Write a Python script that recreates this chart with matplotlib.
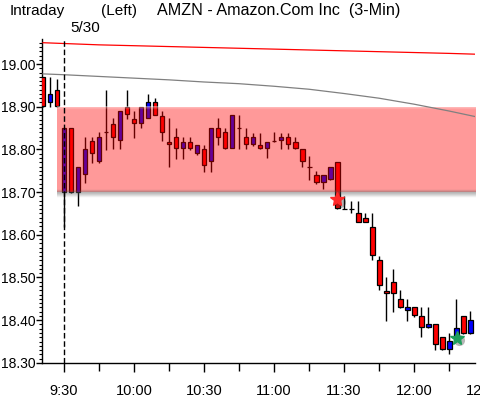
import numpy as np
import matplotlib.pyplot as plt
from matplotlib.ticker import MultipleLocator, FormatStrFormatter, FixedLocator

plt.rcParams["font.family"] = ["Liberation Sans", "DejaVu Sans"]

# bar position: 0 = 9:30 bar of 5/30, one bar every 3 minutes (-3..-1 = previous day)
bar_idx = list(range(-3, 59))
opens = [18.969, 18.912, 18.940,
         18.701, 18.850, 18.701, 18.742, 18.819, 18.773, 18.840, 18.859, 18.821, 18.899,
         18.872, 18.862, 18.873, 18.911, 18.879, 18.818, 18.829, 18.803, 18.818, 18.791,
         18.801, 18.772, 18.850, 18.840, 18.803, 18.850, 18.829, 18.812, 18.811, 18.803,
         18.819, 18.821, 18.829, 18.818, 18.800, 18.760, 18.739, 18.723, 18.731, 18.770,
         18.660, 18.660, 18.651, 18.639, 18.619, 18.540, 18.469, 18.489, 18.450, 18.424,
         18.430, 18.410, 18.383, 18.391, 18.360, 18.332, 18.361, 18.410, 18.371]
highs = [18.970, 18.969, 18.966,
         18.850, 18.850, 18.760, 18.830, 18.830, 18.841, 18.940, 18.873, 18.890, 18.940,
         18.889, 18.899, 18.930, 18.920, 18.889, 18.873, 18.851, 18.830, 18.830, 18.811,
         18.811, 18.850, 18.873, 18.851, 18.881, 18.881, 18.850, 18.839, 18.839, 18.818,
         18.841, 18.839, 18.839, 18.829, 18.800, 18.785, 18.750, 18.739, 18.760, 18.770,
         18.690, 18.679, 18.679, 18.651, 18.651, 18.551, 18.501, 18.519, 18.471, 18.450,
         18.430, 18.430, 18.430, 18.391, 18.360, 18.369, 18.450, 18.410, 18.422]
lows = [18.900, 18.899, 18.899,
        18.619, 18.699, 18.668, 18.721, 18.769, 18.769, 18.799, 18.800, 18.800, 18.871,
        18.826, 18.850, 18.873, 18.881, 18.819, 18.760, 18.778, 18.778, 18.799, 18.787,
        18.748, 18.748, 18.811, 18.801, 18.803, 18.800, 18.800, 18.807, 18.800, 18.779,
        18.818, 18.800, 18.800, 18.800, 18.760, 18.729, 18.719, 18.708, 18.729, 18.660,
        18.660, 18.651, 18.629, 18.629, 18.541, 18.471, 18.399, 18.420, 18.428, 18.399,
        18.408, 18.360, 18.381, 18.329, 18.329, 18.321, 18.355, 18.368, 18.368]
closes = [18.902, 18.929, 18.902,
          18.850, 18.701, 18.760, 18.801, 18.791, 18.829, 18.840, 18.830, 18.890, 18.883,
          18.862, 18.899, 18.911, 18.881, 18.842, 18.812, 18.803, 18.818, 18.803, 18.810,
          18.764, 18.850, 18.830, 18.803, 18.881, 18.850, 18.812, 18.829, 18.803, 18.818,
          18.819, 18.829, 18.812, 18.803, 18.772, 18.760, 18.723, 18.739, 18.760, 18.662,
          18.660, 18.660, 18.631, 18.631, 18.553, 18.483, 18.463, 18.463, 18.432, 18.430,
          18.411, 18.383, 18.391, 18.344, 18.332, 18.351, 18.381, 18.371, 18.401]

# two moving averages
red_ma_idx = [-3, 5, 15, 25, 35, 45, 55, 59]
red_ma = [19.050, 19.045, 19.041, 19.037, 19.033, 19.029, 19.025, 19.023]
gray_ma_idx = [-3, 0, 5, 10, 15, 20, 25, 30, 35, 40, 45, 50, 55, 59]
gray_ma = [18.977, 18.975, 18.971, 18.967, 18.963, 18.958, 18.954, 18.948, 18.941,
           18.931, 18.920, 18.906, 18.890, 18.876]

zone_low, zone_high = 18.70, 18.90
zone_start = -1

signal_idx = [39, 56.1]
signal_price = [18.683, 18.359]
signal_colors = ["#ff2a2a", "#1e9e5c"]

tick_pos = [0, 10, 20, 30, 40, 50]
tick_labels = ["9:30", "10:00", "10:30", "11:00", "11:30", "12:00"]

fig = plt.figure(figsize=(4.8, 3.99), dpi=100)
ax = fig.add_axes([42 / 480, 1 - 363.3 / 399, 433 / 480, 324 / 399])

# candles
x = np.array(bar_idx)
o = np.array(opens)
c = np.array(closes)
cols = np.where(c > o, "#0000ff", "#ff0000")
ax.vlines(x, lows, highs, color="black", lw=1.0, zorder=2)
ax.bar(x, c - o, bottom=o, width=0.7, color=cols, edgecolor="black", lw=0.9, zorder=3)

# zone overlay + shadow
ax.fill_between([zone_start, 62], zone_low, zone_high, color="red", alpha=0.4, lw=0, zorder=4)
prof = np.concatenate([np.linspace(0, 0.45, 6), np.linspace(0.45, 0, 10)])
grad = np.zeros((len(prof), 1, 4))
grad[:, 0, :3] = 0.35
grad[:, 0, 3] = prof
ax.imshow(grad, extent=(zone_start, 62, zone_low - 0.013, zone_low + 0.006),
          aspect="auto", interpolation="bilinear", zorder=4)
top = np.zeros((6, 1, 4))
top[:, 0, :3] = 1.0
top[:, 0, 3] = np.linspace(0.45, 0, 6)
ax.imshow(top, extent=(zone_start, 62, zone_high - 0.008, zone_high),
          aspect="auto", interpolation="bilinear", zorder=4)

ax.plot(red_ma_idx, red_ma, color="#ff0000", lw=0.9, zorder=5)
ax.plot(gray_ma_idx, gray_ma, color="#808080", lw=0.9, zorder=5)

ax.axvline(0, color="black", lw=1.0, ls=(0, (4, 2)), zorder=6)

# signal marks with a soft shadow
for xi, yi, col in zip(signal_idx, signal_price, signal_colors):
    ax.plot(xi + 0.35, yi - 0.006, "o", ms=8, color="#333333", alpha=0.35, mec="none", zorder=7)
    ax.plot(xi, yi, "*", ms=10, color=col, mec=col, zorder=8)

ax.set_xlim(-3.14, 58.7)
ax.set_ylim(18.299, 19.058)

for s in ["top", "right"]:
    ax.spines[s].set_visible(False)
ax.spines["left"].set_linewidth(1.0)
ax.spines["bottom"].set_linewidth(1.0)

ax.xaxis.set_major_locator(FixedLocator(tick_pos))
ax.set_xticklabels(tick_labels)
ax.xaxis.set_minor_locator(FixedLocator([5, 15, 25, 35, 45, 55]))
ax.tick_params(axis="x", which="major", length=6.5, width=1, pad=8.2, labelsize=10.5)
ax.tick_params(axis="x", which="minor", length=5.5, width=1)
# the 12:30 label runs off the right edge, as in the original
ax.text(60, 18.299 - 0.048, "12:30", ha="center", va="top", fontsize=10.5)

ax.yaxis.set_major_locator(MultipleLocator(0.1))
ax.yaxis.set_minor_locator(MultipleLocator(0.01))
ax.yaxis.set_major_formatter(FormatStrFormatter("%.2f"))
ax.tick_params(axis="y", which="major", length=4, width=1, pad=0.5, labelsize=10)
ax.tick_params(axis="y", which="minor", length=2.2, width=0.8)

fig.text(10 / 480, 1 - 15 / 399, "Intraday", fontsize=11)
fig.text(101 / 480, 1 - 15 / 399, "(Left)", fontsize=11)
fig.text(157 / 480, 1 - 15 / 399, "AMZN - Amazon.Com Inc  (3-Min)", fontsize=11.6)
fig.text(70 / 480, 1 - 32 / 399, "5/30", fontsize=11)

fig.savefig("out.png", dpi=100)
